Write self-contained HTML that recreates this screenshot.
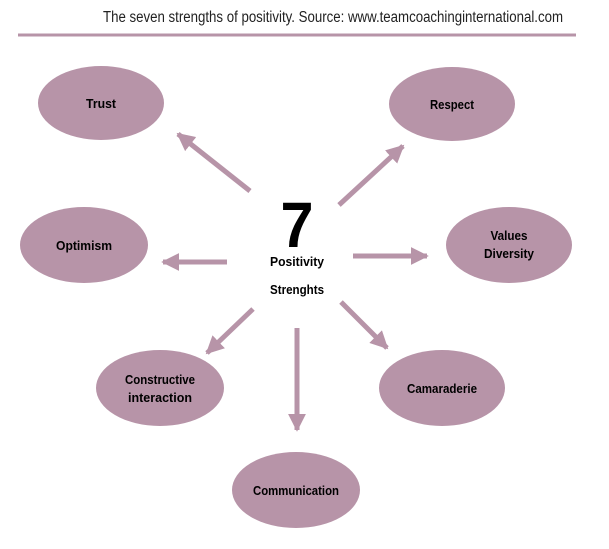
<!DOCTYPE html>
<html><head><style>
body{margin:0;background:#fff;}
svg{display:block}
text{font-family:"Liberation Sans",sans-serif;font-weight:bold;}
</style></head><body>
<svg width="609" height="549" viewBox="0 0 609 549" xmlns="http://www.w3.org/2000/svg">
<defs>
<marker id="a" viewBox="0 0 10 10" refX="9" refY="5" markerWidth="3.6" markerHeight="3.6" orient="auto" markerUnits="strokeWidth">
<path d="M0,0 L10,5 L0,10 z" fill="#b794a8"/>
</marker>
</defs>
<text x="103" y="22" font-size="15.5" textLength="460" lengthAdjust="spacingAndGlyphs" style="font-weight:normal" fill="#222">The seven strengths of positivity. Source: www.teamcoachinginternational.com</text>
<line x1="18" y1="35" x2="576" y2="35" stroke="#b794a8" stroke-width="3"/>
<g fill="#b794a8">
<ellipse cx="101" cy="103" rx="63" ry="37"/>
<ellipse cx="452" cy="104" rx="63" ry="37"/>
<ellipse cx="84" cy="245" rx="64" ry="38"/>
<ellipse cx="509" cy="245" rx="63" ry="38"/>
<ellipse cx="160" cy="388" rx="64" ry="38"/>
<ellipse cx="442" cy="388" rx="63" ry="38"/>
<ellipse cx="296" cy="490" rx="64" ry="38"/>
</g>
<g stroke="#b794a8" stroke-width="5" marker-end="url(#a)">
<line x1="250" y1="191" x2="178" y2="134"/>
<line x1="339" y1="205" x2="403" y2="146"/>
<line x1="227" y1="262" x2="163" y2="262"/>
<line x1="353" y1="256" x2="427" y2="256"/>
<line x1="253" y1="309" x2="207" y2="353"/>
<line x1="341" y1="302" x2="387" y2="348"/>
<line x1="297" y1="328" x2="297" y2="430"/>
</g>
<g font-size="13" text-anchor="middle" fill="#000" lengthAdjust="spacingAndGlyphs">
<text x="101" y="108" textLength="30" lengthAdjust="spacingAndGlyphs">Trust</text>
<text x="452" y="109" textLength="44" lengthAdjust="spacingAndGlyphs">Respect</text>
<text x="84" y="250" textLength="56" lengthAdjust="spacingAndGlyphs">Optimism</text>
<text x="509" y="240" textLength="37" lengthAdjust="spacingAndGlyphs">Values</text>
<text x="509" y="258" textLength="50" lengthAdjust="spacingAndGlyphs">Diversity</text>
<text x="160" y="384" textLength="70" lengthAdjust="spacingAndGlyphs">Constructive</text>
<text x="160" y="402" textLength="64" lengthAdjust="spacingAndGlyphs">interaction</text>
<text x="442" y="393" textLength="70" lengthAdjust="spacingAndGlyphs">Camaraderie</text>
<text x="296" y="495" textLength="86" lengthAdjust="spacingAndGlyphs">Communication</text>
<text x="297" y="247" font-size="64" textLength="33" lengthAdjust="spacingAndGlyphs">7</text>
<text x="297" y="266" textLength="54" lengthAdjust="spacingAndGlyphs">Positivity</text>
<text x="297" y="294" textLength="54" lengthAdjust="spacingAndGlyphs">Strenghts</text>
</g>
</svg>
</body></html>
